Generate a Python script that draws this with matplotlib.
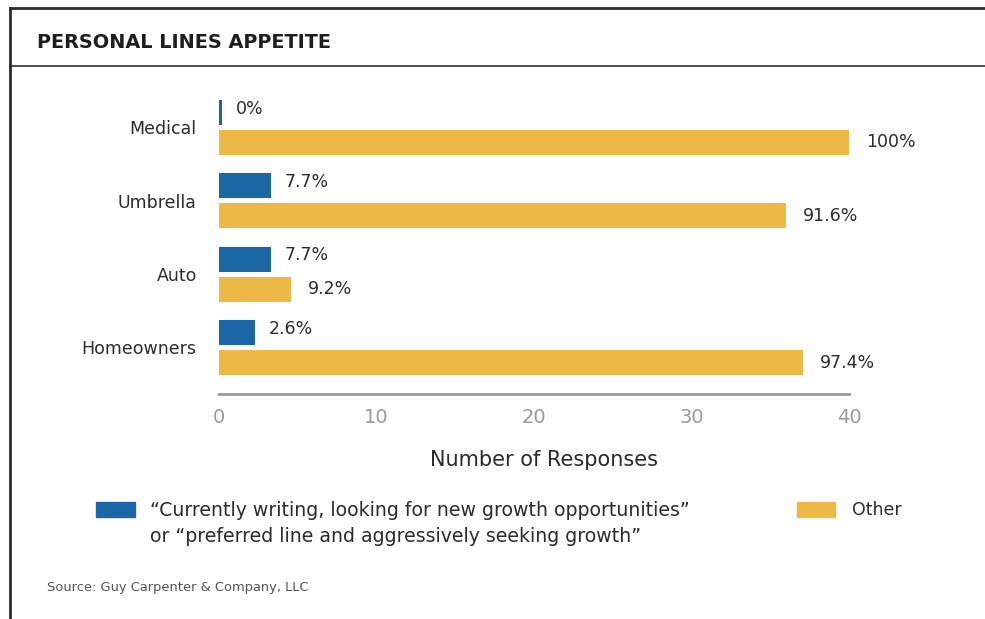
import numpy as np
import matplotlib.pyplot as plt
from matplotlib.lines import Line2D
from matplotlib.patches import Rectangle

plt.rcParams['font.family'] = ['DejaVu Sans']

categories = ['Medical', 'Umbrella', 'Auto', 'Homeowners']
growth = [0.2, 3.3, 3.3, 2.3]
other = [40.0, 36.0, 4.6, 37.1]
growth_pct = ['0%', '7.7%', '7.7%', '2.6%']
other_pct = ['100%', '91.6%', '9.2%', '97.4%']
xticks = [0, 10, 20, 30, 40]

blue = '#1b67a6'
gold = '#edb845'
dark = '#2b2b2b'
grey = '#9a9a9a'

fig = plt.figure(figsize=(9.85, 6.19), dpi=100)
ax = fig.add_axes([0.2223, 0.3635, 0.6396, 0.4911])

y = np.arange(len(categories))[::-1]
h = 0.34
off = 0.205
ax.barh(y + off, growth, height=h, color=blue)
ax.barh(y - off, other, height=h, color=gold)

for yi, v, t in zip(y, growth, growth_pct):
    ax.annotate(t, (v, yi + off + 0.05), xytext=(10, 0), textcoords='offset points',
                va='center', ha='left', fontsize=12.5, color=dark)
for yi, v, t in zip(y, other, other_pct):
    ax.annotate(t, (v, yi - off), xytext=(12, 0), textcoords='offset points',
                va='center', ha='left', fontsize=12.5, color=dark)

ax.set_xlim(0, 40)
ax.set_ylim(-0.634, 3.51)
ax.set_yticks(y)
ax.set_yticklabels(categories, fontsize=12.5, color=dark)
ax.set_xticks(xticks)
ax.set_xticklabels([str(t) for t in xticks], fontsize=14, color=grey)
ax.tick_params(axis='both', length=0)
ax.tick_params(axis='x', pad=10)
ax.tick_params(axis='y', pad=16)
for s in ['top', 'right', 'left']:
    ax.spines[s].set_visible(False)
ax.spines['bottom'].set_color(grey)
ax.spines['bottom'].set_linewidth(2)
ax.set_xlabel('Number of Responses', fontsize=15, color=dark, labelpad=17)
ax.xaxis.label.set_x(0.516)

# frame and header rule
W, H = 985, 619
def fx(px):
    return px / W
def fy(py):
    return 1 - py / H
fig.add_artist(Line2D([fx(10), fx(10)], [fy(8), 0], color=dark, lw=2))
fig.add_artist(Line2D([fx(10), 1], [fy(8), fy(8)], color=dark, lw=2))
fig.add_artist(Line2D([fx(10), 1], [fy(66), fy(66)], color=dark, lw=1.2))

fig.text(fx(37), fy(42), 'PERSONAL LINES APPETITE', fontsize=13.9, fontweight='bold',
         color='#1e1e1e', va='center', ha='left')

# legend
fig.add_artist(Rectangle((fx(96), fy(517)), fx(135) - fx(96), fy(502) - fy(517),
                         color=blue, transform=fig.transFigure))
fig.text(fx(150), fy(511), '\u201cCurrently writing, looking for new growth opportunities\u201d',
         fontsize=13.6, color=dark, va='center', ha='left')
fig.text(fx(150), fy(537), 'or \u201cpreferred line and aggressively seeking growth\u201d',
         fontsize=13.6, color=dark, va='center', ha='left')
fig.add_artist(Rectangle((fx(797), fy(517)), fx(835) - fx(797), fy(502) - fy(517),
                         color=gold, transform=fig.transFigure))
fig.text(fx(852), fy(510), 'Other', fontsize=12.5, color=dark, va='center', ha='left')

fig.text(fx(47), fy(588), 'Source: Guy Carpenter & Company, LLC', fontsize=9.4,
         color='#555555', va='center', ha='left')

fig.savefig('out.png', dpi=100)
